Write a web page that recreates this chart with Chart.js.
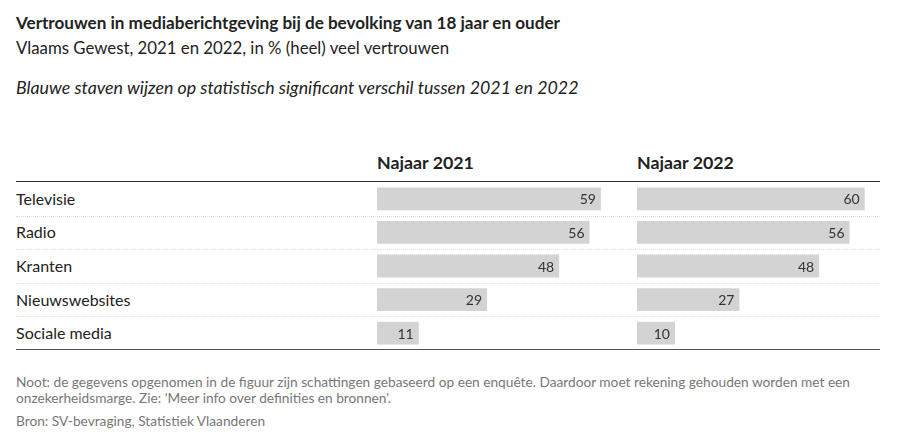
<!DOCTYPE html>
<html>
<head>
<meta charset="utf-8">
<script src="https://cdn.jsdelivr.net/npm/chart.js@4"></script>
<style>
  html, body { margin: 0; padding: 0; background: #fff; }
  body { width: 908px; height: 436px; position: relative; font-family: Lato, "Open Sans", sans-serif; color: #222; overflow: hidden; }
  .abs { position: absolute; white-space: nowrap; }
  #title { left: 16px; top: 12px; font-size: 17.1px; font-weight: 700; color: #222; }
  #subtitle { left: 16px; top: 37px; font-size: 16.8px; color: #222; }
  #note { left: 16px; top: 76px; font-size: 17.8px; font-style: italic; color: #222; }
  .colhead { top: 151px; font-size: 17.8px; font-weight: 700; color: #222; }
  #topRule { left: 16px; width: 864px; top: 181px; height: 0; border-top: 1.5px solid #333; }
  #botRule { left: 16px; width: 864px; top: 349px; height: 0; border-top: 1.5px solid #555; }
  .sep { left: 16px; width: 864px; height: 0; border-top: 1px dotted #dcdcdc; }
  .rowlabel { left: 16px; font-size: 16px; color: #222; line-height: 20px; }
  canvas { position: absolute; }
  #foot { left: 16px; top: 374px; font-size: 13.7px; color: #777; line-height: 16px; white-space: normal; width: 885px; }
  #src { left: 16px; top: 412px; font-size: 13.7px; color: #777; }
</style>
</head>
<body>
<div id="title" class="abs">Vertrouwen in mediaberichtgeving bij de bevolking van 18 jaar en ouder</div>
<div id="subtitle" class="abs">Vlaams Gewest, 2021 en 2022, in % (heel) veel vertrouwen</div>
<div id="note" class="abs">Blauwe staven wijzen op statistisch significant verschil tussen 2021 en 2022</div>
<div id="h1" class="abs colhead" style="left:377px"></div>
<div id="h2" class="abs colhead" style="left:637px"></div>
<div id="topRule" class="abs"></div>
<div id="botRule" class="abs"></div>
<div id="rows"></div>
<canvas id="c1" width="255" height="168" style="left:377px; top:182px; width:255px; height:168px;"></canvas>
<canvas id="c2" width="255" height="168" style="left:637px; top:182px; width:255px; height:168px;"></canvas>
<div id="foot" class="abs">Noot: de gegevens opgenomen in de figuur zijn schattingen gebaseerd op een enquête. Daardoor moet rekening gehouden worden met een<br>onzekerheidsmarge. Zie: 'Meer info over definities en bronnen'.</div>
<div id="src" class="abs">Bron: SV-bevraging, Statistiek Vlaanderen</div>
<script>
const categories = ["Televisie", "Radio", "Kranten", "Nieuwswebsites", "Sociale media"];
const periods = ["Najaar 2021", "Najaar 2022"];
const values2021 = [59, 56, 48, 29, 11];
const values2022 = [60, 56, 48, 27, 10];

document.getElementById('h1').textContent = periods[0];
document.getElementById('h2').textContent = periods[1];

// row labels and separators
const rowsTop = 182, rowsH = 168;
const rh = rowsH / categories.length;
const rowsDiv = document.getElementById('rows');
categories.forEach((c, i) => {
  const l = document.createElement('div');
  l.className = 'abs rowlabel';
  l.style.top = (rowsTop + rh * i + rh / 2 - 10) + 'px';
  l.textContent = c;
  rowsDiv.appendChild(l);
  if (i > 0) {
    const s = document.createElement('div');
    s.className = 'abs sep';
    s.style.top = (rowsTop + rh * i) + 'px';
    rowsDiv.appendChild(s);
  }
});

const valueLabels = {
  id: 'valueLabels',
  afterDatasetsDraw(chart) {
    const ctx = chart.ctx;
    ctx.save();
    ctx.font = '14px Lato, sans-serif';
    ctx.fillStyle = '#333';
    ctx.textAlign = 'right';
    ctx.textBaseline = 'middle';
    chart.data.datasets.forEach((ds, di) => {
      chart.getDatasetMeta(di).data.forEach((bar, i) => {
        ctx.fillText(String(ds.data[i]), bar.x - 5, bar.y + 1);
      });
    });
    ctx.restore();
  }
};

function makeChart(id, data) {
  return new Chart(document.getElementById(id), {
    type: 'bar',
    data: {
      labels: categories,
      datasets: [{
        data: data,
        backgroundColor: '#d3d3d3',
        borderWidth: 0,
        barPercentage: 1,
        categoryPercentage: 0.68
      }]
    },
    options: {
      indexAxis: 'y',
      responsive: false,
      animation: false,
      devicePixelRatio: window.devicePixelRatio || 1,
      layout: { padding: 0 },
      plugins: { legend: { display: false }, tooltip: { enabled: false } },
      scales: {
        x: { display: false, min: 0, max: 67.2 },
        y: { display: false }
      }
    },
    plugins: [valueLabels]
  });
}
makeChart('c1', values2021);
makeChart('c2', values2022);
</script>
</body>
</html>
